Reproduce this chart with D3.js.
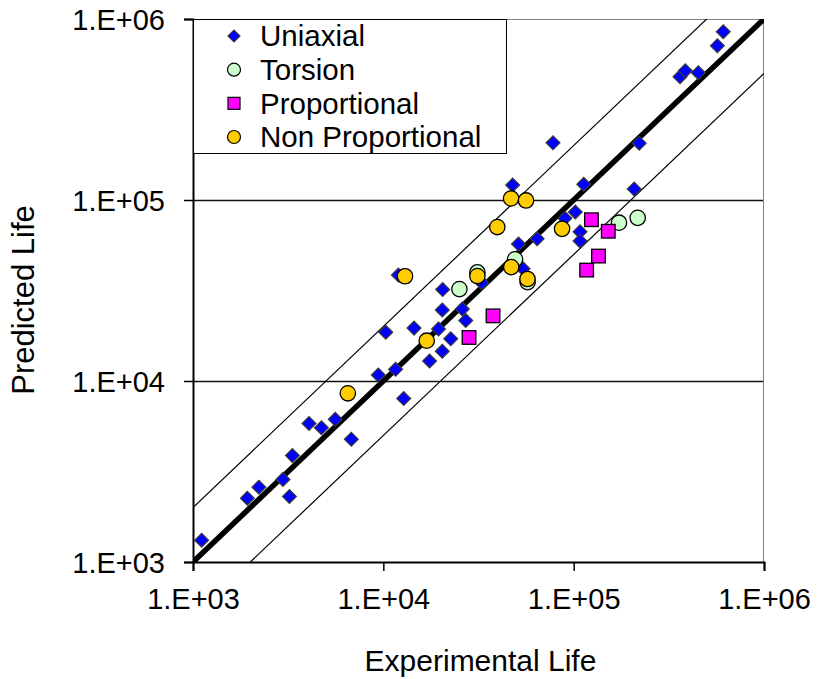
<!DOCTYPE html>
<meta charset="utf-8">
<head>
<style>
body { margin: 0; background: #fff; }
text { font-family: "Liberation Sans", Arial, sans-serif; fill: #000; }
</style>
</head>
<script src="https://d3js.org/d3.v7.min.js"></script>
<div id="chart"></div>
<script>
// values: [experimental, predicted]
var uniaxial = [
  [1.11e3, 1.32e3], [1.93e3, 2.25e3], [2.22e3, 2.59e3], [2.97e3, 2.86e3], [3.21e3, 2.30e3],
  [3.33e3, 3.87e3], [4.07e3, 5.83e3], [4.73e3, 5.52e3], [5.59e3, 6.14e3], [6.79e3, 4.77e3],
  [9.41e3, 1.08e4], [1.16e4, 1.16e4], [1.28e4, 8.0e3], [1.03e4, 1.86e4], [1.45e4, 1.96e4],
  [1.95e4, 1.94e4], [2.04e4, 2.47e4], [2.6e4, 2.5e4], [2.71e4, 2.16e4], [2.05e4, 3.2e4],
  [2.26e4, 1.71e4], [2.04e4, 1.46e4], [1.75e4, 1.29e4], [1.2e4, 3.85e4], [3.29e4, 3.49e4],
  [4.78e4, 1.21e5], [5.13e4, 5.71e4], [6.43e4, 6.11e4], [5.42e4, 4.17e4], [9.0e4, 7.92e4],
  [1.02e5, 8.59e4], [1.08e5, 6.67e4], [1.08e5, 5.94e4], [1.13e5, 1.22e5], [2.08e5, 1.15e5],
  [7.79e4, 2.07e5], [2.21e5, 2.06e5], [3.62e5, 4.8e5], [3.86e5, 5.18e5], [4.52e5, 5.05e5],
  [5.69e5, 7.12e5], [6.11e5, 8.51e5]
];
var torsion = [
  [2.51e4, 3.22e4], [3.12e4, 3.98e4], [4.92e4, 4.7e4], [5.73e4, 3.52e4], [1.73e5, 7.49e4], [2.17e5, 7.97e4]
];
var proportional = [
  [2.82e4, 1.74e4], [3.77e4, 2.29e4], [1.24e5, 7.78e4], [1.52e5, 6.72e4], [1.35e5, 4.9e4], [1.17e5, 4.1e4]
];
var nonProportional = [
  [6.51e3, 8.55e3], [1.3e4, 3.79e4], [1.69e4, 1.67e4], [3.12e4, 3.8e4], [3.97e4, 7.09e4],
  [4.69e4, 1.02e5], [5.62e4, 9.94e4], [4.7e4, 4.26e4], [5.72e4, 3.66e4], [8.69e4, 6.93e4]
];
var tickValues = [1e3, 1e4, 1e5, 1e6];
var tickLabels = ["1.E+03", "1.E+04", "1.E+05", "1.E+06"];
var legendNames = ["Uniaxial", "Torsion", "Proportional", "Non Proportional"];
var bandFactor = 2;

var margin = {top: 19, right: 53, bottom: 117, left: 193},
    width = 817 - margin.left - margin.right,
    height = 679 - margin.top - margin.bottom;

var svg = d3.select("#chart").append("svg")
    .attr("width", 817).attr("height", 679)
  .append("g")
    .attr("transform", "translate(" + margin.left + "," + margin.top + ")");

var x = d3.scaleLog().domain([1e3, 1e6]).range([0, width]);
var y = d3.scaleLog().domain([1e3, 1e6]).range([height, 0]);

svg.append("clipPath").attr("id", "clip")
  .append("rect").attr("width", width).attr("height", height);

// gridlines
svg.selectAll(".grid").data([1e4, 1e5]).enter().append("line")
    .attr("x1", 0).attr("x2", width)
    .attr("y1", function(d) { return Math.round(y(d)) + 0.5; })
    .attr("y2", function(d) { return Math.round(y(d)) + 0.5; })
    .attr("stroke", "#111").attr("stroke-width", 1.4);

// top + right frame
svg.append("path")
    .attr("d", "M0,0.5H" + (width - 0.5) + "V" + height)
    .attr("fill", "none").attr("stroke", "#808080").attr("stroke-width", 1);

// 1:1 line and factor-of-2 band
var lines = svg.append("g").attr("clip-path", "url(#clip)");
var dom = x.domain();
lines.append("line")
    .attr("x1", x(dom[0])).attr("y1", y(dom[0] * bandFactor))
    .attr("x2", x(dom[1])).attr("y2", y(dom[1] * bandFactor))
    .attr("stroke", "#000").attr("stroke-width", 1.2);
lines.append("line")
    .attr("x1", x(dom[0])).attr("y1", y(dom[0] / bandFactor))
    .attr("x2", x(dom[1])).attr("y2", y(dom[1] / bandFactor))
    .attr("stroke", "#000").attr("stroke-width", 1.2);
lines.append("line")
    .attr("x1", x(dom[0])).attr("y1", y(dom[0]))
    .attr("x2", x(dom[1])).attr("y2", y(dom[1]))
    .attr("stroke", "#000").attr("stroke-width", 5.5);

// axes
var xAxis = svg.append("g").attr("transform", "translate(0," + height + ")")
  .call(d3.axisBottom(x).tickValues(tickValues).tickSize(9).tickPadding(12)
    .tickFormat(function(d, i) { return tickLabels[i]; }));
var yAxis = svg.append("g")
  .call(d3.axisLeft(y).tickValues(tickValues).tickSize(9).tickPadding(19)
    .tickFormat(function(d, i) { return tickLabels[i]; }));
[xAxis, yAxis].forEach(function(a) {
  a.select(".domain").attr("stroke", "#000").attr("stroke-width", 2);
  a.selectAll(".tick line").attr("stroke", "#000").attr("stroke-width", 1.5);
  a.selectAll(".tick text").attr("font-size", "29px").attr("font-family", "Liberation Sans, Arial, sans-serif").attr("fill", "#000");
});
xAxis.selectAll(".tick text").attr("dy", "0.9em");
yAxis.selectAll(".tick text").attr("dy", "0.35em");

// axis titles
svg.append("text")
    .attr("text-anchor", "middle")
    .attr("x", width / 2 + 2).attr("y", height + 109)
    .attr("font-size", "30px")
    .text("Experimental Life");
svg.append("text")
    .attr("text-anchor", "middle")
    .attr("transform", "rotate(-90)")
    .attr("x", -281).attr("y", -159)
    .attr("font-size", "31px")
    .text("Predicted Life");

// markers
var diamond = d3.symbol().type(d3.symbolSquare).size(96);
function drawDiamonds(g, data) {
  g.selectAll("path.u").data(data).enter().append("path")
    .attr("class", "u")
    .attr("d", diamond)
    .attr("transform", function(d) { return "translate(" + x(d[0]) + "," + y(d[1]) + ") rotate(45)"; })
    .attr("fill", "#0000ff").attr("stroke", "#3a3a3a").attr("stroke-width", 1.2);
}
var pts = svg.append("g");
drawDiamonds(pts, uniaxial);
pts.selectAll("circle.t").data(torsion).enter().append("circle")
    .attr("class", "t")
    .attr("cx", function(d) { return x(d[0]); }).attr("cy", function(d) { return y(d[1]); })
    .attr("r", 7.7).attr("fill", "#ccffcc").attr("stroke", "#000").attr("stroke-width", 1.3);
pts.selectAll("rect.p").data(proportional).enter().append("rect")
    .attr("class", "p")
    .attr("x", function(d) { return x(d[0]) - 6.8; }).attr("y", function(d) { return y(d[1]) - 6.8; })
    .attr("width", 13.6).attr("height", 13.6)
    .attr("fill", "#ff00ff").attr("stroke", "#000").attr("stroke-width", 1.3);
pts.selectAll("circle.n").data(nonProportional).enter().append("circle")
    .attr("class", "n")
    .attr("cx", function(d) { return x(d[0]); }).attr("cy", function(d) { return y(d[1]); })
    .attr("r", 7.7).attr("fill", "#ffcc00").attr("stroke", "#000").attr("stroke-width", 1.3);

// legend
var legend = svg.append("g");
legend.append("rect")
    .attr("x", 0.5).attr("y", 0.5).attr("width", 313).attr("height", 134)
    .attr("fill", "#fff").attr("stroke", "#000").attr("stroke-width", 1);
var rowY = d3.scalePoint().domain(legendNames).range([17, 118]);
legendNames.forEach(function(name, i) {
  var cy = rowY(name), cx = 41;
  if (i === 0) {
    legend.append("path").attr("d", d3.symbol().type(d3.symbolSquare).size(72))
      .attr("transform", "translate(" + cx + "," + cy + ") rotate(45)")
      .attr("fill", "#0000ff").attr("stroke", "#3a3a3a").attr("stroke-width", 1.2);
  } else if (i === 1) {
    legend.append("circle").attr("cx", cx).attr("cy", cy).attr("r", 6.5)
      .attr("fill", "#ccffcc").attr("stroke", "#000").attr("stroke-width", 1.2);
  } else if (i === 2) {
    legend.append("rect").attr("x", cx - 6).attr("y", cy - 6).attr("width", 12).attr("height", 12)
      .attr("fill", "#ff00ff").attr("stroke", "#000").attr("stroke-width", 1.2);
  } else {
    legend.append("circle").attr("cx", cx).attr("cy", cy).attr("r", 6.5)
      .attr("fill", "#ffcc00").attr("stroke", "#000").attr("stroke-width", 1.2);
  }
  legend.append("text")
    .attr("x", 67).attr("y", cy).attr("dy", "0.35em")
    .attr("font-size", "29.5px")
    .text(name);
});
</script>
